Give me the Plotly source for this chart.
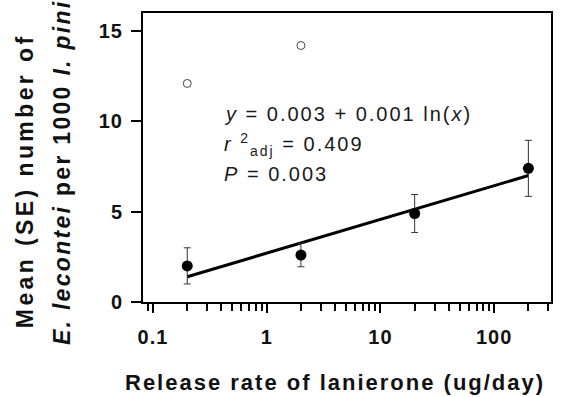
import plotly.graph_objects as go

# ---- data ----
release_rate = [0.2, 2, 20, 200]
mean_count = [2.0, 2.6, 4.9, 7.4]
se_count = [1.0, 0.65, 1.05, 1.55]
outlier_x = [0.2, 2]
outlier_y = [12.1, 14.2]
fit_x = [0.2, 200]
fit_y = [1.4, 7.0]
x_tick_vals = [0.1, 1, 10, 100]
x_tick_text = ["0.1", "1", "10", "100"]
y_tick_vals = [0, 5, 10, 15]
y_tick_text = ["0", "5", "10", "15"]

FONT = "Liberation Sans, Arial, sans-serif"
INK = "#111111"


def spaced(t, px=2):
    return f'<span style="letter-spacing:{px}px">{t}</span>'


minor_vals = [d * 10 ** e for e in range(-2, 3) for d in range(2, 10)]
minor_vals = [v for v in minor_vals if 0.082 <= v <= 316]

fig = go.Figure()

fig.add_trace(go.Scatter(
    x=outlier_x, y=outlier_y, mode="markers",
    marker=dict(symbol="circle-open", size=8, color="#444444", line=dict(width=1)),
    showlegend=False, hoverinfo="skip"))

fig.add_trace(go.Scatter(
    x=fit_x, y=fit_y, mode="lines",
    line=dict(color="black", width=3), showlegend=False, hoverinfo="skip"))

fig.add_trace(go.Scatter(
    x=release_rate, y=mean_count, mode="markers",
    marker=dict(symbol="circle", size=11, color="black"),
    error_y=dict(type="data", array=se_count, visible=True,
                 color="#333333", thickness=1, width=3.5),
    showlegend=False, hoverinfo="skip"))

fig.update_xaxes(
    type="log", range=[-1.088, 2.5],
    tickvals=x_tick_vals, ticktext=[spaced(f"<b>{t}</b>", 1) for t in x_tick_text],
    ticks="outside", ticklen=9, tickwidth=2, tickcolor="black",
    ticklabelstandoff=7,
    minor=dict(tickvals=minor_vals, ticks="outside", ticklen=7, tickwidth=1.5,
               tickcolor="black", showgrid=False),
    showline=True, linecolor="black", linewidth=2, mirror=True,
    showgrid=False, zeroline=False,
    tickfont=dict(family=FONT, size=20, color=INK))

fig.update_yaxes(
    range=[0, 16],
    tickvals=y_tick_vals, ticktext=[spaced(f"<b>{t}</b>", 1) for t in y_tick_text],
    ticks="outside", ticklen=10, tickwidth=2, tickcolor="black",
    ticklabelstandoff=4,
    showline=True, linecolor="black", linewidth=2, mirror=True,
    showgrid=False, zeroline=False,
    tickfont=dict(family=FONT, size=20, color=INK))

# plot area: x 143..552, y 11..302 px
L, R, T, B = 143, 552, 11, 302
W, H = R - L, B - T


def px_x(p):
    return (p - L) / W


def px_y(p):
    return (B - p) / H


annos = [
    dict(text="<i>y</i> = 0.003 + 0.001 ln(<i>x</i>)", x=px_x(222), y=px_y(113)),
    dict(text="<i>r</i> <sup>2</sup><sub>adj</sub> = 0.409", x=px_x(222), y=px_y(143)),
    dict(text="<i>P</i> = 0.003", x=px_x(222), y=px_y(173)),
]
for a in annos:
    fig.add_annotation(text=spaced(a["text"], 2), x=a["x"], y=a["y"],
                       xref="paper", yref="paper",
                       xanchor="left", yanchor="middle", showarrow=False,
                       font=dict(family=FONT, size=20, color="#1a1a1a"))

# axis titles
fig.add_annotation(text=spaced("<b>Release rate of lanierone (ug/day)</b>"),
                   x=px_x(335), y=px_y(383), xref="paper", yref="paper",
                   xanchor="center", yanchor="middle", showarrow=False,
                   font=dict(family=FONT, size=22, color=INK))
fig.add_annotation(text=spaced("<b>Mean (SE) number of</b>", 3.4),
                   x=px_x(25), y=px_y(180), xref="paper", yref="paper",
                   xanchor="center", yanchor="middle", showarrow=False, textangle=-90,
                   font=dict(family=FONT, size=23, color=INK))
fig.add_annotation(text=spaced("<b><i>E. lecontei</i> per 1000 <i>I. pini</i></b>", 2.3),
                   x=px_x(62), y=px_y(171), xref="paper", yref="paper",
                   xanchor="center", yanchor="middle", showarrow=False, textangle=-90,
                   font=dict(family=FONT, size=23, color=INK))

fig.update_layout(
    width=564, height=397,
    margin=dict(l=L, r=564 - R, t=T, b=397 - B),
    paper_bgcolor="white", plot_bgcolor="white",
    font=dict(family=FONT, color=INK),
)

fig.write_html("out.html", config={"displayModeBar": False},
               post_script="document.body.style.margin='0';document.body.style.overflow='hidden';")
